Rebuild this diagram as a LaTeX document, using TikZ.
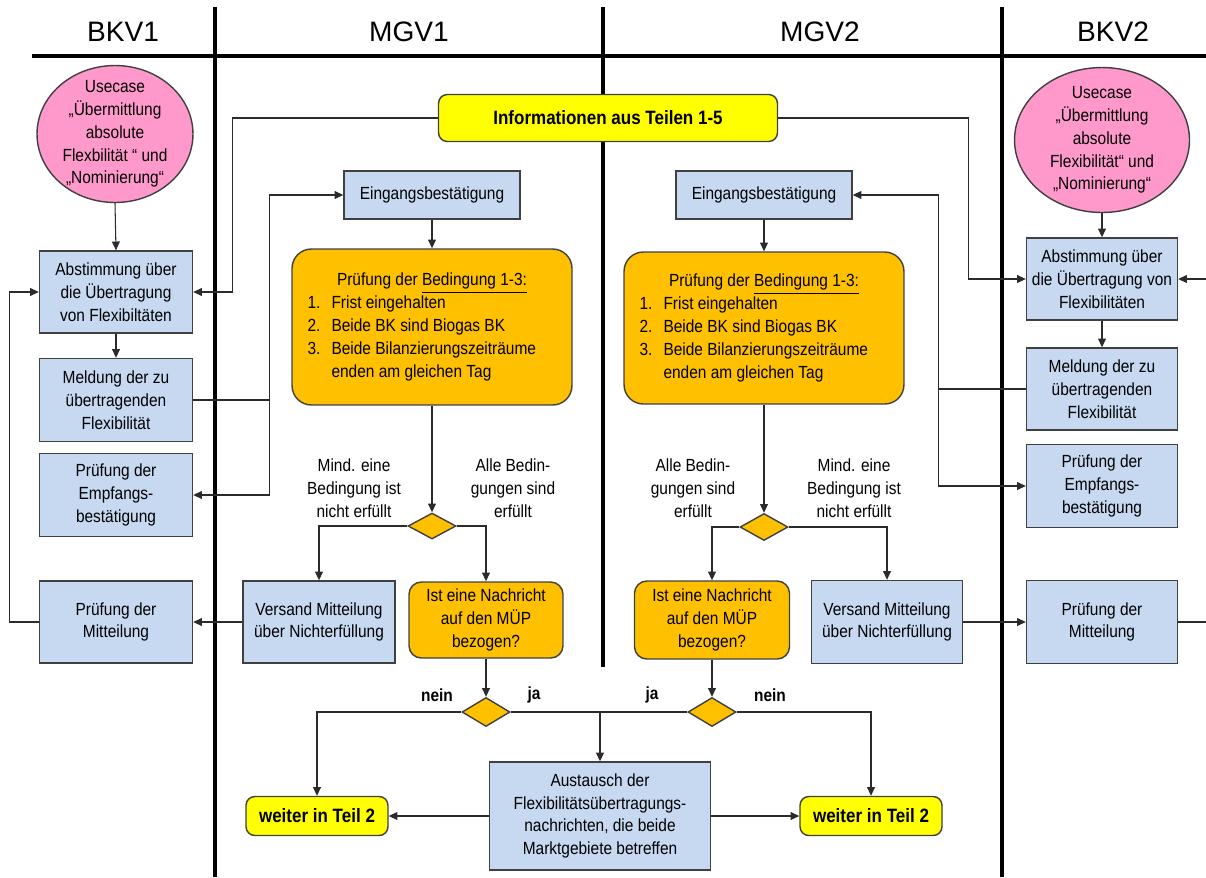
\documentclass[tikz,border=0pt]{standalone}
\usepackage{fontspec}
\setmainfont{Liberation Sans}[FakeStretch=0.88]
\newfontfamily\kopffont{Liberation Sans}
\usetikzlibrary{arrows.meta,shapes.geometric}
\definecolor{hellblau}{HTML}{C6D9F1}
\definecolor{orangegelb}{HTML}{FFC000}
\definecolor{gelb}{HTML}{FFFF00}
\definecolor{rosa}{HTML}{FF99CC}
\definecolor{rahmen}{HTML}{404040}
\definecolor{linie}{HTML}{2B2B2B}
\tikzset{
  txt/.style={font=\fontsize{10}{13}\selectfont, align=center},
  kasten/.style={txt, draw=rahmen, fill=hellblau, line width=0.8pt, inner sep=1pt},
  bed/.style={txt, draw=rahmen, fill=orangegelb, line width=0.8pt, inner sep=1pt},
  hinweis/.style={draw=rahmen, fill=gelb, line width=0.8pt, rounded corners=5pt,
    font=\fontsize{11}{13}\selectfont\bfseries},
  usecase/.style={txt, ellipse, draw=rahmen, fill=rosa, line width=0.8pt,
    inner xsep=0pt, inner ysep=-6pt},
  raute/.style={diamond, draw=rahmen, fill=orangegelb, line width=0.8pt,
    inner sep=0pt, minimum width=0.96cm},
  kopf/.style={font=\kopffont\fontsize{16}{19}\selectfont},
  janein/.style={font=\fontsize{10}{13}\selectfont\bfseries},
  bahn/.style={line width=2.2pt, black},
  verb/.style={draw=linie, line width=0.6pt},
  pfeil/.style={verb, -{Triangle[length=5pt,width=4.5pt]}}
}
\begin{document}
\begin{tikzpicture}[x=0.02cm, y=-0.02cm]
  \useasboundingbox (0,0) rectangle (1206,877);
  % Bahnen und Kopfzeile
  \draw[bahn] (32,56) -- (1206,56);
  \draw[bahn] (215,7) -- (215,877);
  \draw[bahn] (603,7) -- (603,667);
  \draw[bahn] (1002,7) -- (1002,877);
  \node[kopf] (hBKV1) at (123,32) {BKV1};
  \node[kopf] (hMGV1) at (409,32) {MGV1};
  \node[kopf] (hMGV2) at (820,32) {MGV2};
  \node[kopf] (hBKV2) at (1113,32) {BKV2};
  % BKV1
  \node[usecase, minimum width=3.12cm, minimum height=2.74cm] (kreis1) at (115,134)
    {Usecase\\„Übermittlung\\absolute\\Flexbilität “ und\\„Nominierung“};
  \node[kasten, minimum width=3.06cm, minimum height=1.64cm] (abst1) at (116,292)
    {Abstimmung über\\die Übertragung\\von Flexibiltäten};
  \node[kasten, minimum width=3.06cm, minimum height=1.66cm] (meld1) at (116,400)
    {Meldung der zu\\übertragenden\\Flexibilität};
  \node[kasten, minimum width=3.06cm, minimum height=1.66cm] (empf1) at (116,495)
    {Prüfung der\\Empfangs-\\bestätigung};
  \node[kasten, minimum width=3.06cm, minimum height=1.64cm] (mitt1) at (116,622)
    {Prüfung der\\Mitteilung};
  % MGV1
  \node[hinweis, minimum width=6.78cm, minimum height=0.94cm] (info) at (608,118)
    {Informationen aus Teilen 1-5};
  \node[kasten, minimum width=3.52cm, minimum height=0.96cm] (eing1) at (432,195)
    {Eingangsbestätigung};
  \node[bed, rounded corners=11pt, minimum width=5.6cm, minimum height=3.12cm] (pruef1) at (432,327)
    {\begin{tabular}{@{}p{0.48cm}@{}p{4.5cm}@{}}
     \multicolumn{2}{@{}c@{}}{Prüfung der \underline{Bedingung 1-3:}}\\
     1. & Frist eingehalten\\
     2. & Beide BK sind Biogas BK\\
     3. & Beide Bilanzierungszeiträume\\
        & enden am gleichen Tag
     \end{tabular}};
  \node[raute, minimum height=0.52cm] (raute1) at (432,526) {};
  \node[txt] (mind1) at (354,488) {Mind. eine\\Bedingung ist\\nicht erfüllt};
  \node[txt] (alle1) at (513,488) {Alle Bedin-\\gungen sind\\erfüllt};
  \node[kasten, minimum width=3.04cm, minimum height=1.64cm] (vers1) at (319,622)
    {Versand Mitteilung\\über Nichterfüllung};
  \node[bed, rounded corners=7pt, minimum width=3.08cm, minimum height=1.52cm] (nach1) at (486,620)
    {Ist eine Nachricht\\auf den MÜP\\bezogen?};
  % MGV2
  \node[kasten, minimum width=3.52cm, minimum height=0.96cm] (eing2) at (764,195)
    {Eingangsbestätigung};
  \node[bed, rounded corners=11pt, minimum width=5.6cm, minimum height=3.04cm] (pruef2) at (764,328)
    {\begin{tabular}{@{}p{0.48cm}@{}p{4.5cm}@{}}
     \multicolumn{2}{@{}c@{}}{Prüfung der \underline{Bedingung 1-3:}}\\
     1. & Frist eingehalten\\
     2. & Beide BK sind Biogas BK\\
     3. & Beide Bilanzierungszeiträume\\
        & enden am gleichen Tag
     \end{tabular}};
  \node[raute, minimum height=0.54cm] (raute2) at (764,527) {};
  \node[txt] (alle2) at (693,488) {Alle Bedin-\\gungen sind\\erfüllt};
  \node[txt] (mind2) at (854,488) {Mind. eine\\Bedingung ist\\nicht erfüllt};
  \node[bed, rounded corners=7pt, minimum width=3.1cm, minimum height=1.56cm] (nach2) at (712,620)
    {Ist eine Nachricht\\auf den MÜP\\bezogen?};
  \node[kasten, minimum width=3.02cm, minimum height=1.66cm] (vers2) at (887,622)
    {Versand Mitteilung\\über Nichterfüllung};
  % gemeinsamer Teil unten
  \node[raute, minimum height=0.58cm] (raute3) at (486,712) {};
  \node[raute, minimum height=0.58cm] (raute4) at (712,712) {};
  \node[janein] (nein1) at (437,695) {nein};
  \node[janein] (ja1) at (534,695) {ja};
  \node[janein] (ja2) at (652,695) {ja};
  \node[janein] (nein2) at (770,695) {nein};
  \node[hinweis, minimum width=2.84cm, minimum height=0.78cm] (weiter1) at (317,816)
    {weiter in Teil 2};
  \node[hinweis, minimum width=2.84cm, minimum height=0.78cm] (weiter2) at (871,816)
    {weiter in Teil 2};
  \node[kasten, minimum width=4.42cm, minimum height=2.16cm] (aust) at (600,816)
    {Austausch der\\Flexibilitätsübertragungs-\\nachrichten, die beide\\Marktgebiete betreffen};
  % BKV2
  \node[usecase, minimum width=3.5cm, minimum height=2.9cm] (kreis2) at (1102,140)
    {Usecase\\„Übermittlung\\absolute\\Flexibilität“ und\\„Nominierung“};
  \node[kasten, minimum width=3.02cm, minimum height=1.64cm] (abst2) at (1102,279)
    {Abstimmung über\\die Übertragung von\\Flexibilitäten};
  \node[kasten, minimum width=3.02cm, minimum height=1.64cm] (meld2) at (1102,389)
    {Meldung der zu\\übertragenden\\Flexibilität};
  \node[kasten, minimum width=3.02cm, minimum height=1.66cm] (empf2) at (1102,486)
    {Prüfung der\\Empfangs-\\bestätigung};
  \node[kasten, minimum width=3.02cm, minimum height=1.66cm] (mitt2) at (1102,622)
    {Prüfung der\\Mitteilung};
  \coordinate (randA) at (1206,279);
  \coordinate (randB) at (1206,622);
  % Verbindungen BKV1
  \draw[pfeil] (kreis1.south) -- (abst1.north);
  \draw[pfeil] (abst1.south) -- (meld1.north);
  \draw[pfeil] (mitt1.west) -- ++(-29,0) |- (abst1.west);
  \draw[pfeil] (meld1.east) -- ++(76,0) |- (eing1.west);
  \draw[pfeil] (meld1.east) -- ++(76,0) |- (empf1.east);
  \draw[pfeil] (info.west) -- ++(-205,0) |- (abst1.east);
  \draw[pfeil] (vers1.west) -- (mitt1.east);
  % Verbindungen MGV1
  \draw[pfeil] (eing1.south) -- (pruef1.north);
  \draw[pfeil] (pruef1.south) -- (raute1.north);
  \draw[pfeil] (raute1.west) -| (vers1.north);
  \draw[pfeil] (raute1.east) -| (nach1.north);
  \draw[pfeil] (nach1.south) -- (raute3.north);
  % Verbindungen MGV2
  \draw[pfeil] (eing2.south) -- (pruef2.north);
  \draw[pfeil] (pruef2.south) -- (raute2.north);
  \draw[pfeil] (raute2.west) -| (nach2.north);
  \draw[pfeil] (raute2.east) -| (vers2.north);
  \draw[pfeil] (nach2.south) -- (raute4.north);
  \draw[pfeil] (vers2.east) -- (mitt2.west);
  % unten
  \draw[pfeil] (raute3.west) -| (weiter1.north);
  \draw[pfeil] (raute4.east) -| (weiter2.north);
  \draw[verb] (raute3.east) -- (raute4.west);
  \draw[pfeil] (raute3.east -| aust.north) -- (aust.north);
  \draw[pfeil] (aust.west) -- (weiter1.east);
  \draw[pfeil] (aust.east) -- (weiter2.west);
  % Verbindungen BKV2
  \draw[pfeil] (kreis2.south) -- (abst2.north);
  \draw[pfeil] (abst2.south) -- (meld2.north);
  \draw[pfeil] (info.east) -- ++(190,0) |- (abst2.west);
  \draw[pfeil] (meld2.west) -- ++(-87,0) |- (eing2.east);
  \draw[pfeil] (meld2.west) -- ++(-87,0) |- (empf2.west);
  \draw[pfeil] (randA) -- (abst2.east);
  \draw[verb] (mitt2.east) -- (randB);
\end{tikzpicture}
\end{document}
